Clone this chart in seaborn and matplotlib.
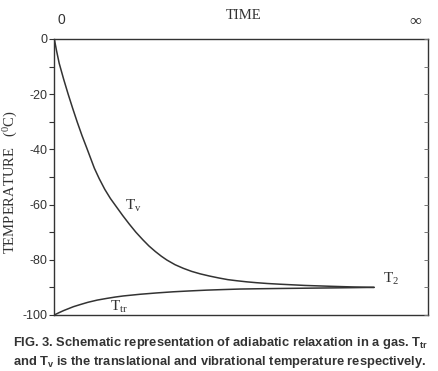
import numpy as np
import pandas as pd
import seaborn as sns
import matplotlib.pyplot as plt

# --- data (time in arbitrary units, 0..100 = 0..inf axis) ---
time_v = [0, 0.6, 1.3, 2.5, 3.7, 4.9, 6.1, 7.4, 8.7, 10.7, 12.0, 13.5, 15.0, 16.7,
          18.3, 20.0, 21.8, 23.7, 25.3, 27.0, 28.6, 30.1, 32.3, 34.5, 36.7, 39.0,
          41.5, 44.0, 46.4, 48.8, 51.5, 54.0, 57.0, 60.3, 67.0, 73.7, 80.0, 85.5]
temp_v = [0, -4.3, -8.8, -14.6, -20.0, -25.1, -30.0, -35.0, -39.6, -46.8, -50.6, -54.5,
          -57.8, -61.0, -64.0, -67.0, -70.0, -72.8, -75.0, -77.0, -78.7, -80.1, -81.8,
          -83.1, -84.2, -85.1, -85.9, -86.6, -87.2, -87.6, -88.0, -88.3, -88.6, -88.85,
          -89.3, -89.6, -89.85, -90.0]

time_tr = [0, 1.2, 2.5, 3.8, 5.1, 7.0, 9.0, 11.5, 14.0, 16.3, 18.5, 20.7, 22.9, 27.5,
           31.8, 36.0, 40.7, 45.0, 49.7, 54.5, 60.3, 67.0, 73.7, 80.0, 85.5]
temp_tr = [-100, -99.2, -98.4, -97.7, -97.0, -96.2, -95.4, -94.6, -94.0, -93.5, -93.1,
           -92.8, -92.5, -92.0, -91.6, -91.3, -91.0, -90.8, -90.6, -90.5, -90.4, -90.3,
           -90.2, -90.1, -90.0]

y_ticks = [0, -20, -40, -60, -80, -100]
y_minor = [-10, -30, -50, -70, -90]
y_side = [0, -10, -20, -30, -40, -50, -60, -70, -80, -90, -100]

df_v = pd.DataFrame({'time': time_v, 'temp': temp_v})
df_tr = pd.DataFrame({'time': time_tr, 'temp': temp_tr})

sns.set_style('white')
plt.rcParams['font.family'] = ['Liberation Serif', 'DejaVu Serif']
plt.rcParams['mathtext.fontset'] = 'custom'
plt.rcParams['mathtext.rm'] = 'Liberation Serif'
plt.rcParams['mathtext.bf'] = 'Liberation Sans:bold'

ink = '#333333'
fig = plt.figure(figsize=(4.38, 3.71), dpi=100)
ax = fig.add_axes([0.124, 0.151, 0.854, 0.744])

sns.lineplot(data=df_v, x='time', y='temp', color=ink, lw=1.1, ax=ax)
sns.lineplot(data=df_tr, x='time', y='temp', color=ink, lw=1.1, ax=ax)

ax.set_xlim(0, 100)
ax.set_ylim(-100, 0)
ax.set_xticks([])
ax.set_yticks(y_ticks)
ax.set_yticklabels([str(v) for v in y_ticks], fontfamily='Liberation Sans', fontsize=9, color=ink)
ax.set_yticks(y_minor, minor=True)
ax.tick_params(axis='y', which='both', left=True, direction='out', length=3.5, width=0.8,
               color=ink, pad=1.5)
ax.set_xlabel('')
ax.set_ylabel('TEMPERATURE   ($\\mathrm{^0C}$)', fontsize=10.5, color=ink)
ax.yaxis.set_label_coords(-0.092, 0.48)

for s in ax.spines.values():
    s.set_color(ink)
    s.set_linewidth(1.0)

# inward ticks on the right spine
axr = ax.twinx()
axr.set_ylim(-100, 0)
axr.set_yticks(y_side)
axr.set_yticklabels([])
axr.tick_params(axis='y', direction='in', length=3, width=0.7, color='#777777')
for s in axr.spines.values():
    s.set_visible(False)

# top annotations
ax.text(0.018, 1.045, '0', transform=ax.transAxes, fontsize=10, color=ink,
        fontfamily='Liberation Sans', ha='center', va='bottom')
ax.text(0.505, 1.06, 'TIME', transform=ax.transAxes, fontsize=10.5, color=ink,
        ha='center', va='bottom')
ax.text(0.965, 1.04, '$\\infty$', transform=ax.transAxes, fontsize=12, color=ink,
        fontfamily='DejaVu Sans', ha='center', va='bottom')

# curve labels
ax.text(18.9, -60.5, 'T$_{\\mathrm{v}}$', fontsize=11, color=ink, ha='left', va='center')
ax.text(14.9, -97.0, 'T$_{\\mathrm{tr}}$', fontsize=11, color=ink, ha='left', va='center')
ax.text(87.9, -87.0, 'T$_{\\mathrm{2}}$', fontsize=11, color=ink, ha='left', va='center')

# caption
cap1 = 'FIG. 3. Schematic representation of adiabatic relaxation in a gas. T$_{\\mathbf{tr}}$'
cap2 = 'and T$_{\\mathbf{v}}$ is the translational and vibrational temperature respectively.'
fig.text(0.03, 1 - 343 / 371, cap1, fontfamily='Liberation Sans', fontweight='bold',
         fontsize=9.3, color=ink, ha='left', va='center')
fig.text(0.03, 1 - 362 / 371, cap2, fontfamily='Liberation Sans', fontweight='bold',
         fontsize=9.3, color=ink, ha='left', va='center')

plt.savefig('out.png', dpi=100)
